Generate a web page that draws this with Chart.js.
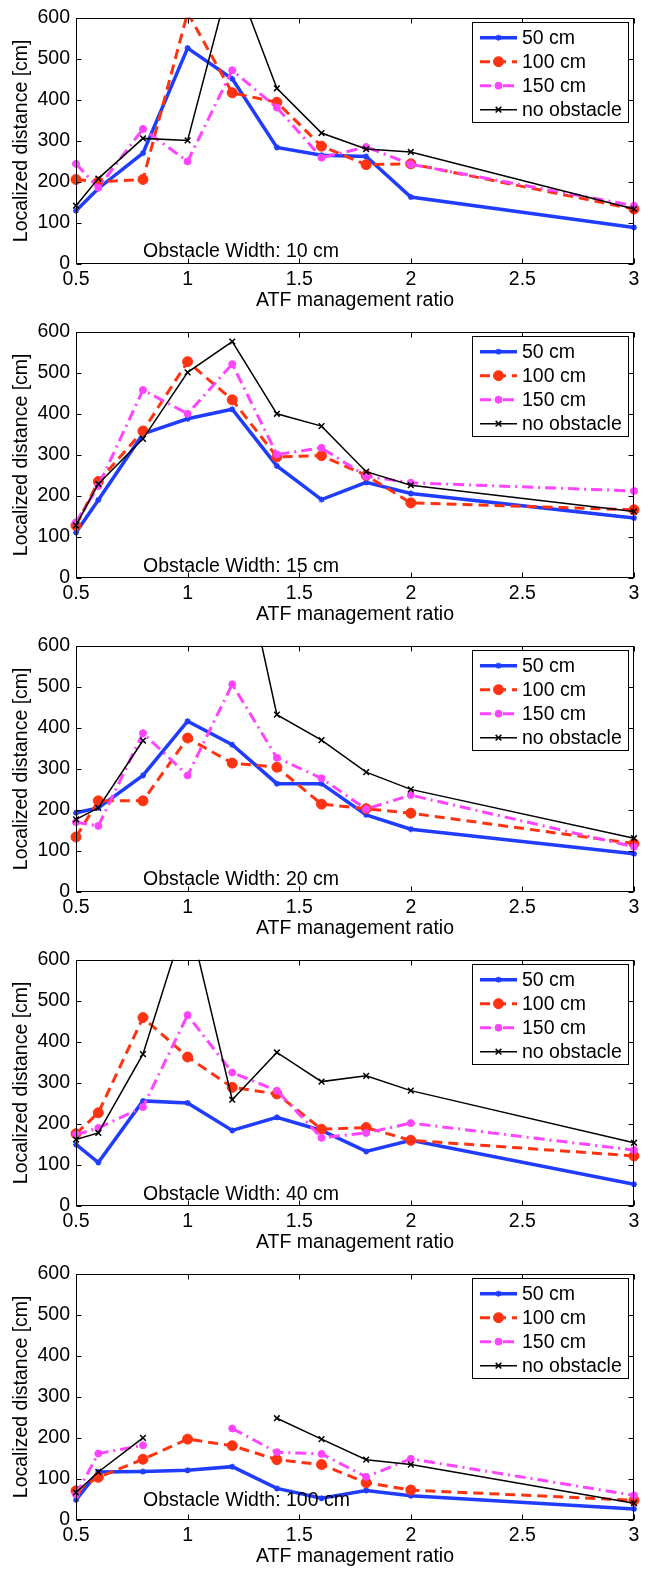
<!DOCTYPE html>
<html lang="en">
<head>
<meta charset="UTF-8">
<title>Localized distance vs ATF management ratio</title>
<script src="https://cdn.jsdelivr.net/npm/chart.js@4.4.1/dist/chart.umd.min.js"></script>
<style>
  body { margin: 0; background: #fff; }
  canvas { display: block; }
</style>
</head>
<body>
<canvas id="c0" width="652" height="314"></canvas>
<canvas id="c1" width="652" height="314"></canvas>
<canvas id="c2" width="652" height="314"></canvas>
<canvas id="c3" width="652" height="314"></canvas>
<canvas id="c4" width="652" height="314"></canvas>
<script>
// x positions (ATF management ratio) shared by every series
const ratios = [0.5, 0.6, 0.8, 1.0, 1.2, 1.4, 1.6, 1.8, 2.0, 3.0];
const seriesNames = ['50 cm', '100 cm', '150 cm', 'no obstacle'];
const obstacleWidths = ['10 cm', '15 cm', '20 cm', '40 cm', '100 cm'];
const xTicks = [0.5, 1, 1.5, 2, 2.5, 3];
const yTicks = [0, 100, 200, 300, 400, 500, 600];

// obstacle width 10 cm
const w10_50   = [130, 184, 270, 526, 451, 284, 265, 262, 163, 89];
const w10_100  = [206, 200, 206, 612, 417, 394, 287, 242, 244, 134];
const w10_150  = [244, 186, 329, 250, 472, 381, 259, 285, 243, 142];
const w10_none = [142, 208, 306, 301, 715, 428, 319, 280, 273, 134];

// obstacle width 15 cm
const w15_50   = [111, 190, 351, 388, 411, 273, 191, 233, 206, 146];
const w15_100  = [128, 235, 358, 527, 434, 295, 298, 250, 183, 166];
const w15_150  = [136, 224, 458, 400, 521, 301, 317, 248, 232, 212];
const w15_none = [128, 229, 339, 501, 576, 400, 370, 259, 226, 162];

// obstacle width 20 cm
const w20_50   = [193, 205, 284, 416, 359, 264, 264, 188, 153, 93];
const w20_100  = [134, 222, 222, 375, 314, 304, 214, 203, 192, 118];
const w20_150  = [170, 161, 387, 284, 506, 327, 277, 202, 236, 110];
const w20_none = [177, 205, 369, null, 930, 432, 370, 292, 250, 131];

// obstacle width 40 cm
const w40_50   = [150, 106, 256, 251, 184, 216, 184, 133, 160, 53];
const w40_100  = [176, 227, 459, 363, 289, 273, 187, 191, 160, 122];
const w40_150  = [174, 190, 241, 465, 325, 281, 166, 178, 202, 136];
const w40_none = [162, 178, 370, 715, 259, 374, 303, 317, 281, 154];

// obstacle width 100 cm
const w100_50   = [49, 117, 118, 121, 130, 77, 53, 72, 59, 27];
const w100_100  = [71, 104, 148, 197, 181, 147, 135, 91, 73, 48];
const w100_150  = [62, 162, 182, null, 223, 165, 161, 105, 149, 60];
const w100_none = [67, 117, 200, null, null, 248, 197, 147, 135, 41];

const panelSeries = [
  [w10_50, w10_100, w10_150, w10_none],
  [w15_50, w15_100, w15_150, w15_none],
  [w20_50, w20_100, w20_150, w20_none],
  [w40_50, w40_100, w40_150, w40_none],
  [w100_50, w100_100, w100_150, w100_none]
];

// where the "Obstacle Width" note sits, in data units
const noteX = 0.8;
const noteY = [29, 28, 29, 28, 47];

const FONT = "'Liberation Sans', Arial, Helvetica, sans-serif";
const FS = 19.5;

const styles = [
  { color: '#1f3cff', width: 3.5, dash: [],           point: 'star',     radius: 3,   pw: 1.5, order: 3 },
  { color: '#ff3311', width: 3,   dash: [10, 6],      point: 'circle',   radius: 5,   pw: 1,   order: 2 },
  { color: '#ff44ff', width: 3,   dash: [11, 5, 2, 5], point: 'circle',  radius: 3.5, pw: 1,   order: 1 },
  { color: '#000000', width: 1.5, dash: [],           point: 'crossRot', radius: 4,   pw: 1.5, order: 0 }
];

// box, inward ticks, legend and the width note, MATLAB style
const axesDecor = {
  id: 'axesDecor',
  afterDatasetsDraw(chart, args, opts) {
    const ctx = chart.ctx;
    const a = chart.chartArea;
    const xs = chart.scales.x, ys = chart.scales.y;
    const L = Math.round(a.left) + 0.5, R = Math.round(a.right) - 0.5;
    const T = Math.round(a.top) + 0.5, B = Math.round(a.bottom) - 0.5;
    ctx.save();
    ctx.strokeStyle = '#000';
    ctx.lineWidth = 1;
    ctx.setLineDash([]);
    ctx.strokeRect(L, T, R - L, B - T);
    const tl = 5;
    ctx.beginPath();
    xTicks.forEach(v => {
      const px = Math.round(xs.getPixelForValue(v)) + 0.5;
      ctx.moveTo(px, B); ctx.lineTo(px, B - tl);
      ctx.moveTo(px, T); ctx.lineTo(px, T + tl);
    });
    yTicks.forEach(v => {
      const py = Math.round(ys.getPixelForValue(v)) + 0.5;
      ctx.moveTo(L, py); ctx.lineTo(L + tl, py);
      ctx.moveTo(R, py); ctx.lineTo(R - tl, py);
    });
    ctx.stroke();

    // width note
    ctx.fillStyle = '#000';
    ctx.font = FS + 'px ' + FONT;
    ctx.textAlign = 'left';
    ctx.textBaseline = 'middle';
    ctx.fillText(opts.note, xs.getPixelForValue(noteX), ys.getPixelForValue(opts.noteY));

    // legend box
    const bx = 472.5, by = 22.5, bw = 156, bh = 100;
    ctx.fillStyle = '#fff';
    ctx.fillRect(bx, by, bw, bh);
    ctx.strokeRect(bx, by, bw, bh);
    chart.data.datasets.forEach((ds, i) => {
      const st = styles[i];
      const y = 37.7 + i * 24;
      ctx.save();
      ctx.strokeStyle = st.color;
      ctx.lineWidth = st.width;
      ctx.setLineDash(st.dash);
      ctx.beginPath();
      ctx.moveTo(480, y); ctx.lineTo(517, y);
      ctx.stroke();
      ctx.setLineDash([]);
      ctx.fillStyle = st.color;
      ctx.lineWidth = st.pw;
      Chart.helpers.drawPoint(ctx, { pointStyle: st.point, radius: st.radius, borderWidth: st.pw, rotation: 0 }, 498.5, y);
      ctx.restore();
      ctx.fillStyle = '#000';
      ctx.fillText(ds.label, 522, y + 1);
    });
    ctx.restore();
  }
};

panelSeries.forEach((series, p) => {
  const datasets = series.map((vals, i) => {
    const st = styles[i];
    return {
      label: seriesNames[i],
      data: ratios.map((r, k) => ({ x: r, y: vals[k] })),
      borderColor: st.color,
      backgroundColor: st.color,
      borderWidth: st.width,
      borderDash: st.dash,
      pointStyle: st.point,
      pointRadius: st.radius,
      pointBorderWidth: st.pw,
      pointBackgroundColor: st.color,
      pointBorderColor: st.color,
      tension: 0,
      spanGaps: false,
      order: st.order,
      clip: { left: 8, top: 0, right: 8, bottom: 8 }
    };
  });

  new Chart(document.getElementById('c' + p), {
    type: 'line',
    data: { datasets },
    options: {
      responsive: false,
      animation: false,
      devicePixelRatio: 1,
      layout: { padding: { top: 16, right: 18, bottom: 0, left: 0 } },
      plugins: {
        legend: { display: false },
        tooltip: { enabled: false },
        axesDecor: { note: 'Obstacle Width: ' + obstacleWidths[p], noteY: noteY[p] }
      },
      scales: {
        x: {
          type: 'linear',
          min: 0.5, max: 3,
          afterFit: s => { s.height = 50; },
          afterBuildTicks: s => { s.ticks = xTicks.map(v => ({ value: v })); },
          grid: { display: false, drawTicks: false },
          border: { display: false },
          ticks: {
            autoSkip: false, maxRotation: 0, padding: 4,
            color: '#000', font: { family: FONT, size: FS },
            callback: v => String(v)
          },
          title: {
            display: true, text: 'ATF management ratio', color: '#000',
            font: { family: FONT, size: FS, lineHeight: 1.2 },
            padding: { top: 0, bottom: 2 }
          }
        },
        y: {
          type: 'linear',
          min: 0, max: 600,
          afterFit: s => { s.width = 76; },
          afterBuildTicks: s => { s.ticks = yTicks.map(v => ({ value: v })); },
          grid: { display: false, drawTicks: false },
          border: { display: false },
          ticks: {
            autoSkip: false, padding: 6,
            color: '#000', font: { family: FONT, size: FS },
            callback: v => String(v)
          },
          title: {
            display: true, text: 'Localized distance [cm]', color: '#000',
            font: { family: FONT, size: FS, lineHeight: 1.2 },
            padding: { top: 10, bottom: 0 }
          }
        }
      }
    },
    plugins: [axesDecor]
  });
});
</script>
</body>
</html>
